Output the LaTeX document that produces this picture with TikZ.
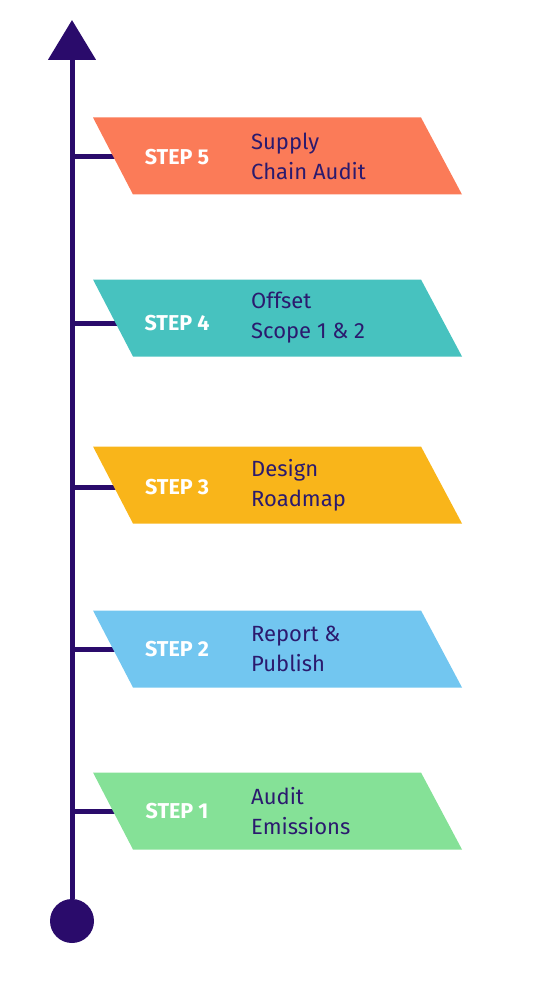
\documentclass[tikz,border=0pt]{standalone}
\usepackage{fontspec}
\setmainfont{Fira Sans}
\usetikzlibrary{arrows.meta}
\definecolor{navy}{HTML}{2A0B6B}
\definecolor{inkblue}{HTML}{2B1A6E}
\definecolor{stepgreen}{HTML}{85E197}
\definecolor{stepblue}{HTML}{72C6F0}
\definecolor{stepyellow}{HTML}{F9B51A}
\definecolor{stepteal}{HTML}{47C2BF}
\definecolor{steporange}{HTML}{FB7B58}
\begin{document}
\begin{tikzpicture}[x=1pt,y=-1pt,
	axisline/.style={line width=5pt,draw=navy},
	steplabel/.style={font=\bfseries\fontsize{21.5}{21.5}\selectfont,text=white,inner sep=0pt},
	steptext/.style={font=\fontsize{22}{30}\selectfont,text=inkblue,align=left,anchor=west,inner sep=0pt}]

	\useasboundingbox (0,0) rectangle (546,1000);

	\node [circle,fill=navy,minimum size=44pt,inner sep=0pt] (start) at (72,921) {};
	\coordinate (top) at (72,20);
	\draw [axisline,-{Triangle[width=47pt,length=40pt]}] (start) -- (top);

	\foreach \n/\y/\b/\c/\t in {1/811/811/stepgreen/{Audit\\Emissions},
		2/649/649/stepblue/{Report \&\\Publish},
		3/485/487/stepyellow/{Design\\Roadmap},
		4/318/323/stepteal/{Offset\\Scope 1 \& 2},
		5/156/157/steporange/{Supply\\Chain Audit}}
	{
		\coordinate (b\n) at (72,\b);
		\coordinate (e\n) at (125,\b);
		\draw [axisline] (b\n) -- (e\n);
		\fill [\c] (93,\y-38.5) -- (421,\y-38.5) -- (462,\y+38.5) -- (133,\y+38.5) -- cycle;
		\node [steplabel] (l\n) at (177,\b) {STEP \n};
		\node [steptext] (t\n) at (251,\y) {\t};
	}

\end{tikzpicture}
\end{document}
